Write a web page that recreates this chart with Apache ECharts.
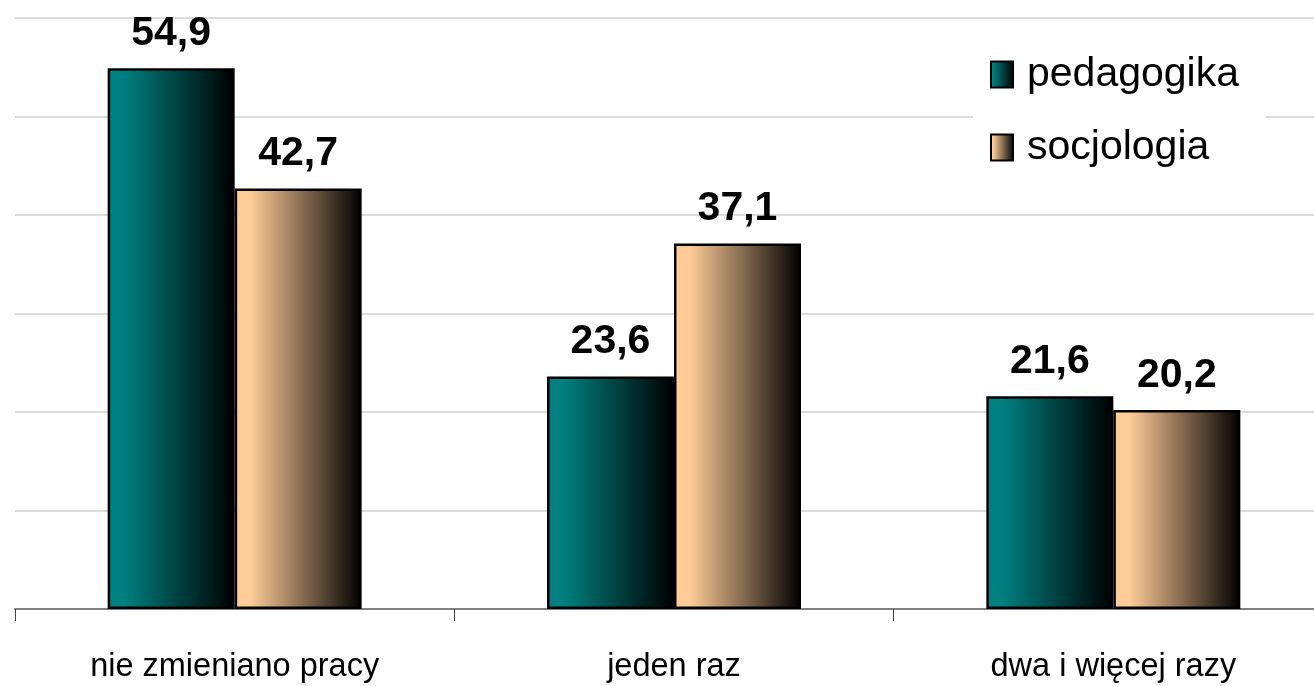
<!DOCTYPE html>
<html>
<head>
<meta charset="utf-8">
<title>Zmiana pracy</title>
<script src="https://cdn.jsdelivr.net/npm/echarts@6/dist/echarts.min.js"></script>
<style>
  html, body { margin: 0; padding: 0; background: #fff; }
  #main { width: 1314px; height: 686px; }
</style>
</head>
<body>
<div id="main"></div>
<script>
const categories = ['nie zmieniano pracy', 'jeden raz', 'dwa i więcej razy'];
const pedagogika = [54.9, 23.6, 21.6];
const socjologia = [42.7, 37.1, 20.2];
const seriesNames = ['pedagogika', 'socjologia'];

const FONT = '"Liberation Sans", Arial, sans-serif';

function barGradient(color) {
  return new echarts.graphic.LinearGradient(0, 0, 1, 0, [
    { offset: 0, color: color },
    { offset: 0.12, color: color },
    { offset: 1, color: '#000000' }
  ]);
}

function fmt(p) {
  return String(p.value).replace('.', ',');
}

const labelStyle = {
  show: true,
  position: 'top',
  distance: 14,
  formatter: fmt,
  color: '#000',
  fontFamily: FONT,
  fontWeight: 'bold',
  fontSize: 41
};

const chart = echarts.init(document.getElementById('main'), null, { renderer: 'canvas' });

chart.setOption({
  animation: false,
  textStyle: { fontFamily: FONT },
  grid: { left: 15, top: 18, width: 1318, height: 591, outerBoundsMode: 'none', containLabel: false },
  legend: {
    orient: 'vertical',
    left: 973,
    top: 40,
    padding: [14, 27, 14, 17],
    backgroundColor: '#ffffff',
    itemWidth: 22,
    itemHeight: 26,
    itemGap: 32,
    icon: 'rect',
    textStyle: { fontSize: 41, color: '#000', fontFamily: FONT, padding: [0, 0, 0, 9] },
    data: seriesNames
  },
  xAxis: {
    type: 'category',
    data: categories,
    axisLine: { lineStyle: { color: '#7f7f7f', width: 2 } },
    axisTick: { show: true, length: 12, lineStyle: { color: '#404040', width: 1 } },
    axisLabel: { color: '#000', fontSize: 32.5, margin: 42, fontFamily: FONT }
  },
  yAxis: {
    type: 'value',
    min: 0,
    max: 60,
    interval: 10,
    axisLabel: { show: false },
    axisLine: { show: false },
    axisTick: { show: false },
    splitLine: { lineStyle: { color: '#d0d0d0', width: 1.5 } }
  },
  series: [
    {
      name: seriesNames[0],
      type: 'bar',
      data: pedagogika,
      barWidth: 127,
      barGap: '0%',
      itemStyle: { color: barGradient('#008080'), borderColor: '#000', borderWidth: 2.5 },
      label: labelStyle
    },
    {
      name: seriesNames[1],
      type: 'bar',
      data: socjologia,
      barWidth: 127,
      barGap: '0%',
      itemStyle: { color: barGradient('#ffcc99'), borderColor: '#000', borderWidth: 2.5 },
      label: labelStyle
    }
  ]
});

window.addEventListener('resize', () => chart.resize());
</script>
</body>
</html>
